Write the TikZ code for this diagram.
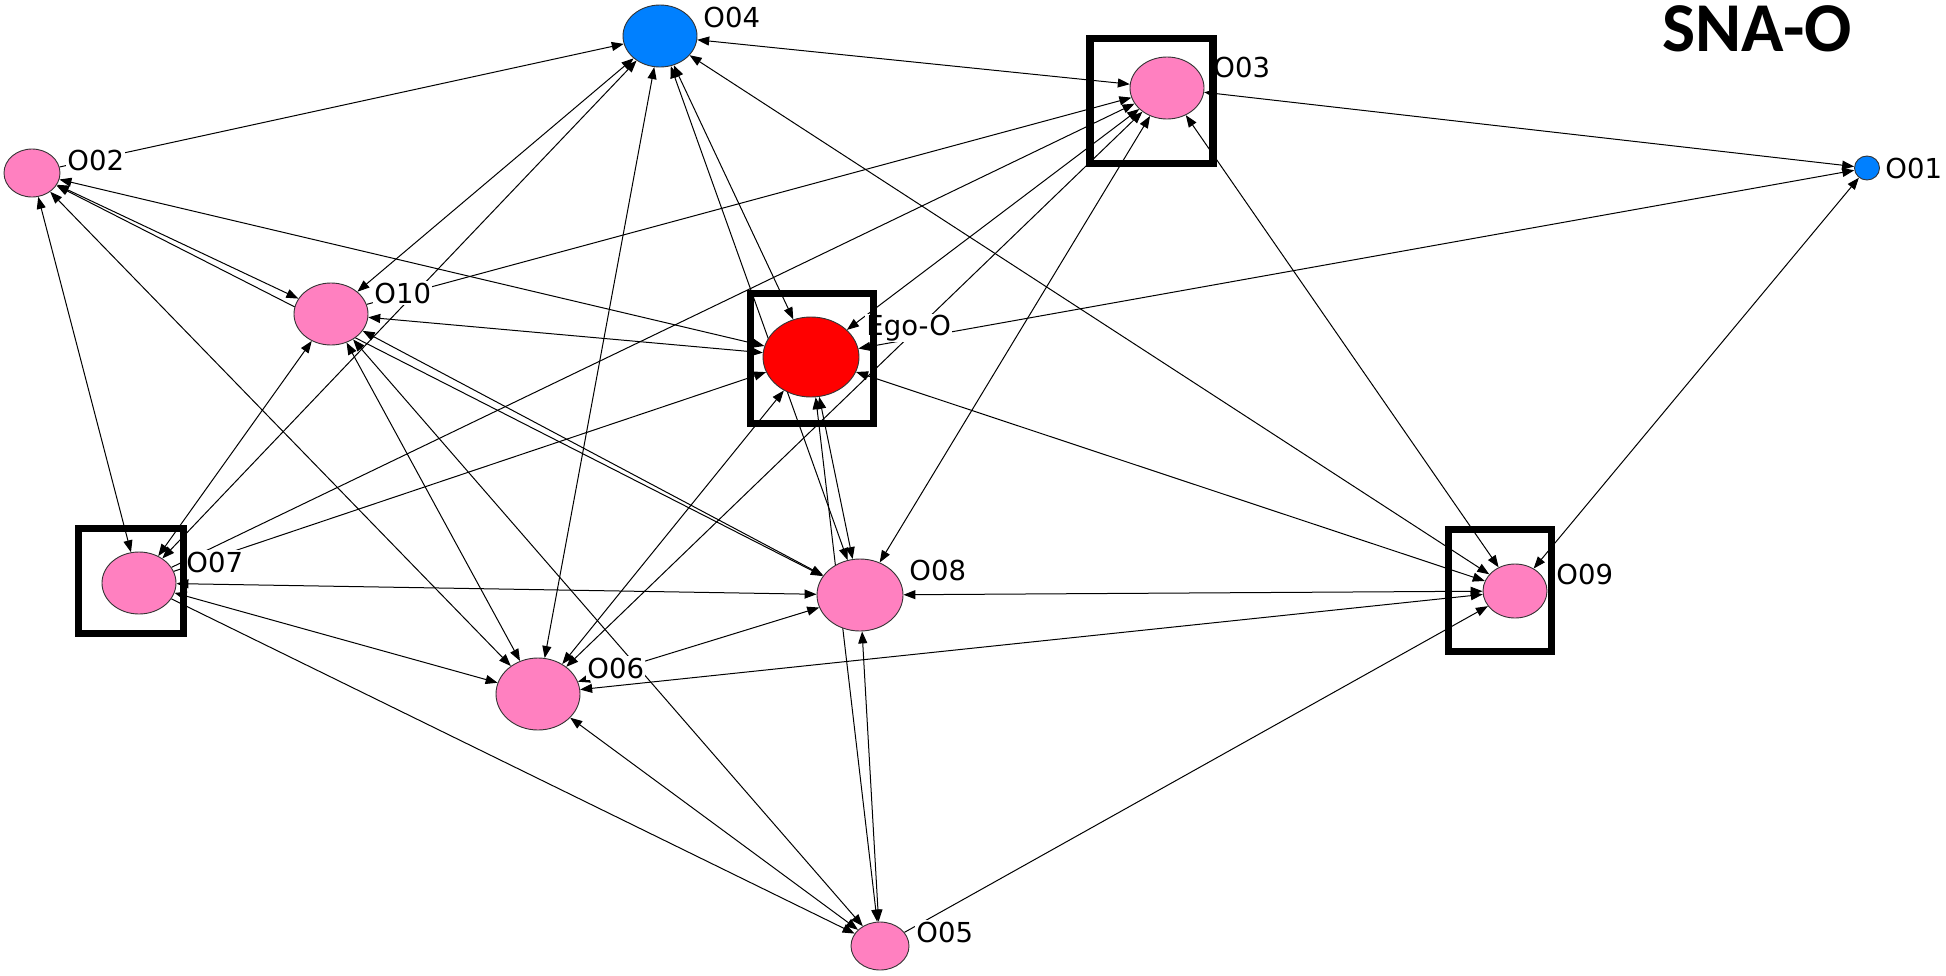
\documentclass[tikz,border=0pt]{standalone}
\usepackage{fontspec}
\setmainfont{DejaVu Sans}
\newfontfamily\titlefont{Carlito}
\usetikzlibrary{arrows.meta,shapes.geometric}
\pgfdeclarelayer{bg}
\pgfdeclarelayer{fg}
\pgfsetlayers{bg,main,fg}
\definecolor{pinkn}{HTML}{FF80C0}
\definecolor{bluen}{HTML}{0080FF}
\definecolor{redn}{HTML}{FF0000}
\begin{document}
\begin{tikzpicture}[x=1pt,y=-1pt,
  nd/.style={ellipse, draw=black!80, line width=0.9pt, inner sep=0pt},
  sz/.style 2 args={minimum width=#1pt, minimum height=#2pt},
  pk/.style={nd, fill=pinkn},
  bl/.style={nd, fill=bluen},
  rd/.style={nd, fill=redn},
  lbl/.style={anchor=west, fill=white, inner sep=1.2pt, font=\fontsize{27.5}{27.5}\selectfont},
  arr/.style={line width=1pt, -{Triangle[length=12pt,width=9pt]}},
  biarr/.style={line width=1pt, {Triangle[length=12pt,width=9pt]}-{Triangle[length=12pt,width=9pt]}},
  frame/.style={draw=black, line width=7.5pt, inner sep=0pt}
]
\useasboundingbox (0,0) rectangle (1946,975);
\begin{pgfonlayer}{bg}
\fill[white] (0,0) rectangle (1946,975);
\end{pgfonlayer}

% nodes
\node[bl, sz={25}{24}] (O01) at (1867,168) {};
\node[pk, sz={56}{48}] (O02) at (32,173) {};
\node[pk, sz={74}{62}] (O03) at (1167,88) {};
\node[bl, sz={74}{62}] (O04) at (660,36) {};
\node[pk, sz={58}{48}] (O05) at (880,946) {};
\node[pk, sz={84}{72}] (O06) at (538,694) {};
\node[pk, sz={74}{62}] (O07) at (139,583) {};
\node[pk, sz={86}{72}] (O08) at (860,595) {};
\node[pk, sz={64}{54}] (O09) at (1515,591) {};
\node[pk, sz={74}{62}] (O10) at (331,314) {};
\node[rd, sz={96}{80}] (Ego) at (811,357) {};

% edges
\begin{pgfonlayer}{bg}
\draw[arr] (O02) -- (O04);
\draw[biarr] (O04) -- (O03);
\draw[biarr] (O03) -- (O01);
\draw[biarr] (Ego) -- (O01);
\draw[biarr] (O09) -- (O01);
\draw[biarr] (O03) -- (O09);
\draw[biarr] (O04) -- (O09);
\draw[biarr] (Ego) -- (O09);
\draw[biarr] (O08) -- (O09);
\draw[biarr] (O06) -- (O09);
\draw[arr] (O05) -- (O09);
\draw[arr] (O10) -- (O03);
\draw[arr] (O07) -- (O03);
\draw[biarr] (O06) -- (O03);
\draw[biarr] (O08) -- (O03);
\draw[biarr] (Ego) -- (O03);
\draw[biarr] (O04) -- (O10);
\draw[biarr] (O07) -- (O04);
\draw[biarr] (O10) -- (O07);
\draw[biarr] (O02) -- (O10);
\draw[biarr] (O02) -- (O07);
\draw[biarr] (O02) -- (O06);
\draw[biarr] (O02) -- (O08);
\draw[biarr] (O10) -- (O08);
\draw[biarr] (Ego) -- (O02);
\draw[biarr] (Ego) -- (O10);
\draw[arr] (O07) -- (Ego);
\draw[biarr] (O06) -- (Ego);
\draw[biarr] (O04) -- (Ego);
\draw[biarr] (O04) -- (O08);
\draw[biarr] (O04) -- (O06);
\draw[biarr] (Ego) -- (O08);
\draw[biarr] (Ego) -- (O05);
\draw[biarr] (O08) -- (O05);
\draw[biarr] (O07) -- (O08);
\draw[biarr] (O07) -- (O06);
\draw[arr] (O07) -- (O05);
\draw[biarr] (O06) -- (O05);
\draw[biarr] (O10) -- (O05);
\draw[biarr] (O10) -- (O06);
\draw[biarr] (O06) -- (O08);
\end{pgfonlayer}

% labels
\node[lbl] (lO01) at (1884,168) {O01};
\node[lbl] (lO02) at (66,160) {O02};
\node[lbl] (lO03) at (1212,67) {O03};
\node[lbl] (lO04) at (702,17) {O04};
\node[lbl] (lO05) at (915,932) {O05};
\node[lbl] (lO06) at (586,668) {O06};
\node[lbl] (lO07) at (185,562) {O07};
\node[lbl] (lO08) at (908,570) {O08};
\node[lbl] (lO09) at (1555,574) {O09};
\node[lbl] (lO10) at (373,293) {O10};
\node[lbl] (lEgo) at (865,328) {Ego-O};

% frames
\begin{pgfonlayer}{fg}
\node[frame, minimum width=123pt, minimum height=125pt] (bO03) at (1151.5,101) {};
\node[frame, minimum width=123pt, minimum height=130pt] (bEgo) at (812,358.5) {};
\node[frame, minimum width=105pt, minimum height=105pt] (bO07) at (131,581) {};
\node[frame, minimum width=103pt, minimum height=122pt] (bO09) at (1500,590.5) {};
\node[font=\titlefont\bfseries\fontsize{70}{70}\selectfont, inner sep=0pt] (title) at (1757,29) {SNA-O};
\end{pgfonlayer}
\end{tikzpicture}
\end{document}
